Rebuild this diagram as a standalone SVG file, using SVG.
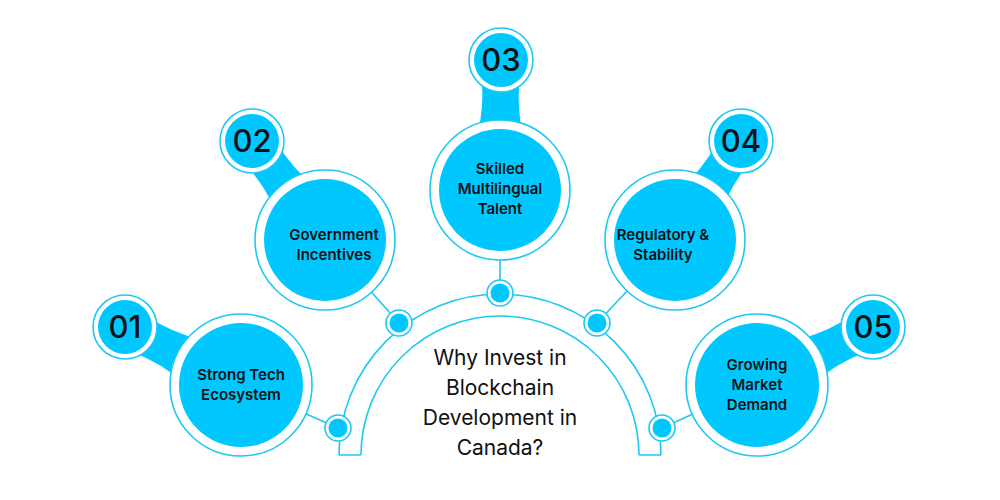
<svg xmlns="http://www.w3.org/2000/svg" width="1000" height="500" viewBox="0 0 1000 500">
<style>
.f{fill:#00c8ff}
.ring{fill:none;stroke:#1ec8f5;stroke-width:1.6}
.ln{stroke:#1ec8f5;stroke-width:1.6;fill:none}
.t{font-family:Inter,"Noto Sans",sans-serif;font-weight:600;font-size:15px;fill:#111;text-anchor:middle}
.n{font-family:Inter,"Noto Sans",sans-serif;font-weight:500;font-size:31px;fill:#111;text-anchor:middle}
.c{font-family:Inter,"Noto Sans",sans-serif;font-size:21px;fill:#111;text-anchor:middle}
</style>
<rect width="1000" height="500" fill="#fff"/>
<g id="connectors">
<path class="ln" d="M339,455 A161,161 0 0 1 661,455 M361,455 A139,139 0 0 1 639,455 M339,455 H361 M639,455 H661"/>
<line class="ln" x1="241" y1="385" x2="338" y2="428"/>
<line class="ln" x1="325" y1="240" x2="399" y2="323"/>
<line class="ln" x1="500" y1="190" x2="500" y2="293"/>
<line class="ln" x1="675" y1="240" x2="597" y2="323"/>
<line class="ln" x1="757" y1="385" x2="662" y2="428"/>
<g fill="#00c8ff" stroke="#1ec8f5" stroke-width="1.6">
<circle cx="338" cy="428" r="13" fill="#fff"/><circle cx="338" cy="428" r="9.5" stroke="none"/>
<circle cx="399" cy="323" r="13" fill="#fff"/><circle cx="399" cy="323" r="9.5" stroke="none"/>
<circle cx="500" cy="293" r="13" fill="#fff"/><circle cx="500" cy="293" r="9.5" stroke="none"/>
<circle cx="597" cy="323" r="13" fill="#fff"/><circle cx="597" cy="323" r="9.5" stroke="none"/>
<circle cx="662" cy="428" r="13" fill="#fff"/><circle cx="662" cy="428" r="9.5" stroke="none"/>
</g>
</g>
<g id="node1">
<path class="f" d="M134.8,307.3 Q186.6,348.8 261.1,344.8 L220.9,425.2 Q179.4,363.2 115.2,346.7 Z"/>
<circle cx="241" cy="385" r="71" fill="#fff"/><circle class="ring" cx="241" cy="385" r="71"/><circle class="f" cx="241" cy="385" r="62"/>
<circle cx="125" cy="327" r="32" fill="#fff"/><circle class="ring" cx="125" cy="327" r="32"/><circle class="f" cx="125" cy="327" r="27"/>
<text class="n" x="125" y="338">01</text>
<text class="t" x="241" y="380">Strong Tech</text><text class="t" x="241" y="400">Ecosystem</text>
</g>
<g id="node2">
<path class="f" d="M269.7,128 Q294.9,185.8 361.2,213.3 L288.8,266.7 Q282.1,195.2 234.3,154 Z"/>
<circle cx="325" cy="240" r="70" fill="#fff"/><circle class="ring" cx="325" cy="240" r="70"/><circle class="f" cx="325" cy="240" r="61"/>
<circle cx="252" cy="141" r="32" fill="#fff"/><circle class="ring" cx="252" cy="141" r="32"/><circle class="f" cx="252" cy="141" r="27"/>
<text class="n" x="252" y="152">02</text>
<text class="t" x="334" y="240">Government</text><text class="t" x="334" y="260">Incentives</text>
</g>
<g id="node3">
<path class="f" d="M523,60 Q508,125 545,190 L455,190 Q492,125 479,60 Z"/>
<circle cx="500" cy="190" r="70" fill="#fff"/><circle class="ring" cx="500" cy="190" r="70"/><circle class="f" cx="500" cy="190" r="61"/>
<circle cx="501" cy="60" r="32" fill="#fff"/><circle class="ring" cx="501" cy="60" r="32"/><circle class="f" cx="501" cy="60" r="27"/>
<text class="n" x="501" y="71">03</text>
<text class="t" x="500" y="174">Skilled</text><text class="t" x="500" y="194">Multilingual</text><text class="t" x="500" y="214">Talent</text>
</g>
<g id="node4">
<path class="f" d="M759.3,153.2 Q714.7,194.9 712.4,265 L637.6,215 Q701.3,186.1 722.7,128.8 Z"/>
<circle cx="675" cy="240" r="70" fill="#fff"/><circle class="ring" cx="675" cy="240" r="70"/><circle class="f" cx="675" cy="240" r="61"/>
<circle cx="741" cy="141" r="32" fill="#fff"/><circle class="ring" cx="741" cy="141" r="32"/><circle class="f" cx="741" cy="141" r="27"/>
<text class="n" x="741" y="152">04</text>
<text class="t" x="663" y="240">Regulatory &amp;</text><text class="t" x="663" y="260">Stability</text>
</g>
<g id="node5">
<path class="f" d="M882.8,346.7 Q818.6,363.2 777.1,425.2 L736.9,344.8 Q811.4,348.8 863.2,307.3 Z"/>
<circle cx="757" cy="385" r="71" fill="#fff"/><circle class="ring" cx="757" cy="385" r="71"/><circle class="f" cx="757" cy="385" r="62"/>
<circle cx="873" cy="327" r="32" fill="#fff"/><circle class="ring" cx="873" cy="327" r="32"/><circle class="f" cx="873" cy="327" r="27"/>
<text class="n" x="873" y="338">05</text>
<text class="t" x="757" y="370">Growing</text><text class="t" x="757" y="390">Market</text><text class="t" x="757" y="410">Demand</text>
</g>
<g id="center">
<text class="c" x="500" y="365">Why Invest in</text>
<text class="c" x="500" y="395">Blockchain</text>
<text class="c" x="500" y="425">Development in</text>
<text class="c" x="500" y="455">Canada?</text>
</g>
</svg>
